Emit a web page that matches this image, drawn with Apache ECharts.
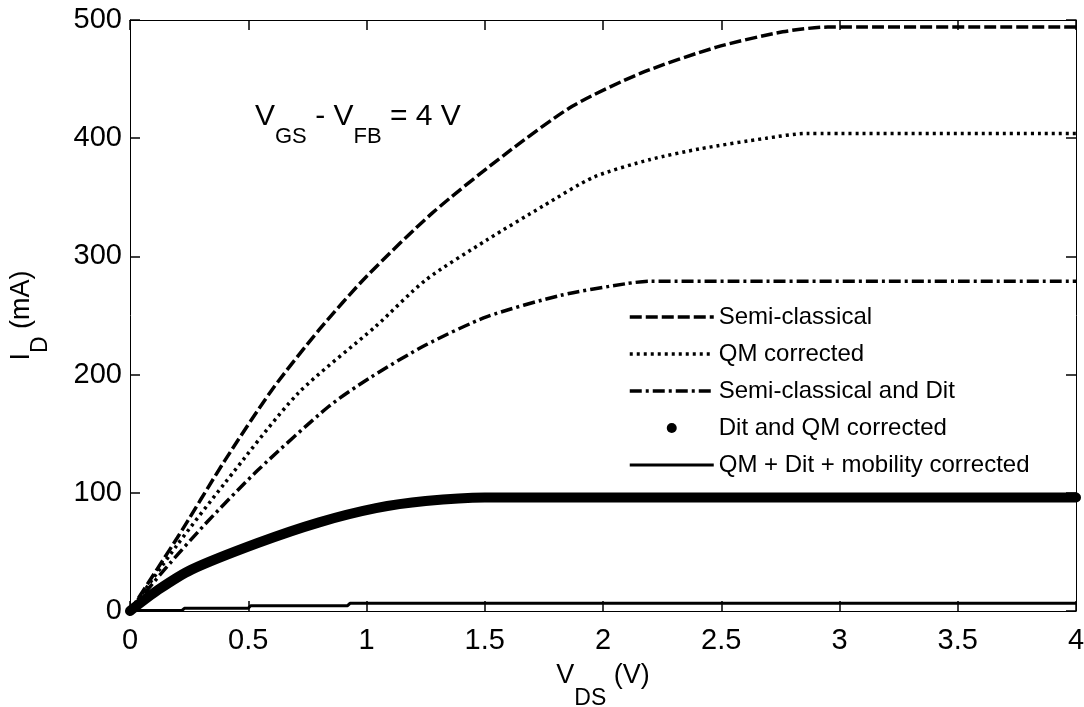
<!DOCTYPE html>
<html>
<head>
<meta charset="utf-8">
<script src="https://cdn.jsdelivr.net/npm/echarts@6/dist/echarts.min.js"></script>
<style>
  html, body { margin: 0; padding: 0; background: #fff; }
  #chart { width: 1084px; height: 707px; }
</style>
</head>
<body>
<div id="chart"></div>
<script>
// V_DS (V) / I_D (mA)
const semiV = [0, 0.2, 0.4, 0.6, 0.8, 1.0, 1.28, 1.59, 1.87, 2.16, 2.48, 2.76, 2.95, 4];
const semiI = [0, 62, 127, 187, 238, 283, 337, 387, 427, 455, 477, 490, 494, 494];

const qmV = [0, 0.2, 0.4, 0.71, 1.04, 1.25, 1.51, 1.75, 1.96, 2.2, 2.41, 2.69, 2.86, 4];
const qmI = [0, 56, 108, 184, 241, 280, 314, 343, 367, 382, 391, 400, 404, 404];

const ditV = [0, 0.15, 0.32, 0.54, 0.84, 1.02, 1.25, 1.51, 1.82, 2.1, 2.2, 4];
const ditI = [0, 36, 74, 119, 173, 198, 225, 249, 267, 277, 279, 279];

const ditQmV = [0, 0.12, 0.26, 0.54, 0.8, 1.04, 1.25, 1.5, 4];
const ditQmI = [0, 18, 35, 57.5, 75, 87, 93, 96, 96];

const mobV = [0, 0.22, 0.23, 0.5, 0.51, 0.92, 0.93, 4];
const mobI = [0.5, 0.5, 2.3, 2.3, 4.5, 4.5, 6.5, 6.5];

const seriesNames = [
    'Semi-classical',
    'QM corrected',
    'Semi-classical and Dit',
    'Dit and QM corrected',
    'QM + Dit + mobility corrected'
];

const xTicks = { min: 0, max: 4, interval: 0.5 };
const yTicks = { min: 0, max: 500, interval: 100 };

const pairs = (xs, ys) => xs.map((x, i) => [x, ys[i]]);

const font = "'Liberation Sans', Arial, sans-serif";
const chart = echarts.init(document.getElementById('chart'));

// box-style axis: black line, ticks pointing into the plot
const boxAxis = (extra) => Object.assign({
    type: 'value',
    axisLine: { show: true, onZero: false, lineStyle: { color: '#000', width: 1 } },
    axisTick: { show: true, inside: true, length: 10, lineStyle: { color: '#000', width: 1.5 } },
    splitLine: { show: false },
    z: 10
}, extra);

const curve = (name, xs, ys, lineStyle) => ({
    name: name,
    type: 'line',
    symbol: 'none',
    smooth: 0.25,
    data: pairs(xs, ys),
    lineStyle: Object.assign({ color: '#000' }, lineStyle),
    itemStyle: { color: '#000' }
});

const option = {
    animation: false,
    backgroundColor: '#fff',
    textStyle: { fontFamily: font, color: '#000' },
    grid: { left: 130, right: 8, top: 20, bottom: 96, outerBoundsMode: 'none' },
    legend: {
        orient: 'vertical',
        left: 623,
        top: 300,
        itemWidth: 84,
        itemHeight: 10,
        itemGap: 13,
        textStyle: { fontSize: 24, color: '#000', fontFamily: font },
        lineStyle: { width: 'inherit' },
        itemStyle: { opacity: 0 },
        data: [
            { name: seriesNames[0] },
            { name: seriesNames[1] },
            { name: seriesNames[2] },
            { name: seriesNames[3], icon: 'circle', itemStyle: { opacity: 1, color: '#000' } },
            { name: seriesNames[4] }
        ]
    },
    xAxis: [
        boxAxis({
            min: xTicks.min, max: xTicks.max, interval: xTicks.interval,
            position: 'bottom',
            axisLabel: { fontSize: 29, color: '#000', margin: 15, fontFamily: font },
            name: '{a|V}{s|DS}{a| (V)}',
            nameLocation: 'middle',
            nameGap: 30,
            nameTextStyle: {
                rich: {
                    a: { fontSize: 27, color: '#000', fontFamily: font },
                    s: { fontSize: 23, color: '#000', fontFamily: font, padding: [46, 0, 0, 0] }
                }
            }
        }),
        boxAxis({
            min: xTicks.min, max: xTicks.max, interval: xTicks.interval,
            position: 'top',
            axisLabel: { show: false }
        })
    ],
    yAxis: [
        boxAxis({
            min: yTicks.min, max: yTicks.max, interval: yTicks.interval,
            position: 'left',
            axisLabel: { fontSize: 29, color: '#000', margin: 8, fontFamily: font },
            name: '{a|I}{s|D}{a| (mA)}',
            nameLocation: 'middle',
            nameGap: 78,
            nameRotate: 90,
            nameTextStyle: {
                rich: {
                    a: { fontSize: 27, color: '#000', fontFamily: font },
                    s: { fontSize: 23, color: '#000', fontFamily: font, padding: [38, 0, 0, 0] }
                }
            }
        }),
        boxAxis({
            min: yTicks.min, max: yTicks.max, interval: yTicks.interval,
            position: 'right',
            axisLabel: { show: false }
        })
    ],
    graphic: [
        {
            type: 'text',
            left: 255,
            top: 102,
            style: {
                text: '{a|V}{s|GS}{a| - V}{s|FB}{a| = 4 V}',
                verticalAlign: 'middle',
                rich: {
                    a: { fontSize: 30, fill: '#000', fontFamily: font },
                    s: { fontSize: 22, fill: '#000', fontFamily: font, padding: [40, 0, 0, 0] }
                }
            }
        }
    ],
    series: [
        curve(seriesNames[0], semiV, semiI, { width: 3.5, type: [12, 4] }),
        curve(seriesNames[1], qmV, qmI, { width: 3.5, type: [3, 4] }),
        curve(seriesNames[2], ditV, ditI, { width: 3.5, type: [12, 4, 3, 4] }),
        Object.assign(curve(seriesNames[3], ditQmV, ditQmI, { width: 10, cap: 'round', join: 'round' }), { clip: false }),
        {
            name: seriesNames[4],
            type: 'line',
            symbol: 'none',
            data: pairs(mobV, mobI),
            lineStyle: { color: '#000', width: 3 },
            itemStyle: { color: '#000' }
        }
    ]
};

chart.setOption(option);
</script>
</body>
</html>
